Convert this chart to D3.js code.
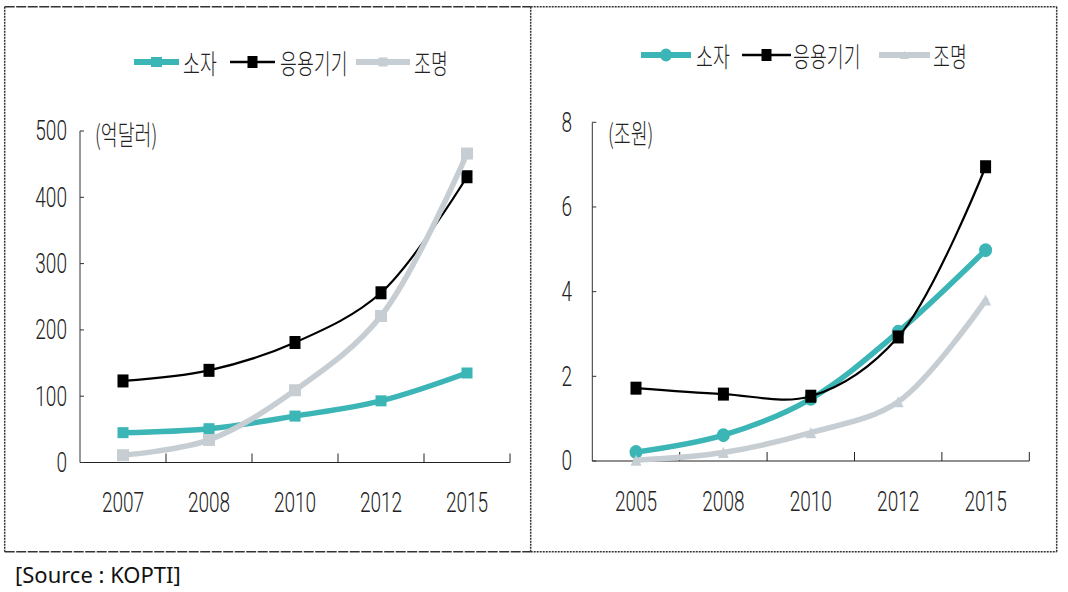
<!DOCTYPE html>
<html><head><meta charset="utf-8">
<script src="https://cdn.jsdelivr.net/npm/d3@7"></script>
<style>html,body{margin:0;padding:0;background:#fff;}svg{display:block;}</style>
</head><body>
<svg id="c" width="1068" height="592"></svg>
<script>
// ---- data ----
const seriesNames = ["소자", "응용기기", "조명"];
const leftYears = ["2007", "2008", "2010", "2012", "2015"];
const leftSoja = [45, 51, 70, 93, 135];
const leftEungyong = [123, 139, 181, 256, 431];
const leftJomyeong = [11, 34, 109, 221, 466];
const leftTicks = [0, 100, 200, 300, 400, 500];
const leftUnit = "(억달러)";
const rightYears = ["2005", "2008", "2010", "2012", "2015"];
const rightSoja = [0.21, 0.61, 1.47, 3.05, 4.98];
const rightEungyong = [1.72, 1.58, 1.53, 2.93, 6.95];
const rightJomyeong = [0.02, 0.2, 0.67, 1.4, 3.8];
const rightTicks = [0, 2, 4, 6, 8];
const rightUnit = "(조원)";
const sourceText = "[Source : KOPTI]";

const TEAL = "#3bb5b5", BLACK = "#000", GRAY = "#c6ced3", TXT = "#222";
const NUMFONT = "Roboto, 'Liberation Sans', Arial, sans-serif";
const KRFONT = "'Noto Sans CJK KR', sans-serif";
const SX = 0.68;

const svg = d3.select("#c");

function txt(g, x, y, s, anchor, size, font, weight) {
  g.append("text")
    .attr("transform", `translate(${x},${y}) scale(${SX},1)`)
    .attr("text-anchor", anchor)
    .attr("dominant-baseline", "central")
    .attr("font-family", font)
    .attr("font-size", size)
    .attr("font-weight", weight)
    .attr("fill", TXT)
    .text(s);
}

function marker(g, type, x, y, color, w, h) {
  if (type === "square") {
    g.append("rect").attr("x", x - w / 2).attr("y", y - h / 2).attr("width", w).attr("height", h).attr("fill", color);
  } else if (type === "circle") {
    g.append("ellipse").attr("cx", x).attr("cy", y).attr("rx", w / 2).attr("ry", h / 2).attr("fill", color);
  } else if (type === "triangle") {
    g.append("path").attr("d", `M${x},${y - h / 2}L${x + w / 2},${y + h / 2}L${x - w / 2},${y + h / 2}Z`).attr("fill", color);
  }
}

function panel(cfg) {
  const g = svg.append("g");
  const x = d3.scaleBand().domain(cfg.years).range([cfg.x0, cfg.x1]).padding(0);
  const y = d3.scaleLinear().domain([0, cfg.ticks[cfg.ticks.length - 1]]).range([cfg.y0, cfg.y1]);
  const bw = x.bandwidth();
  // axes
  g.append("line").attr("x1", cfg.x0).attr("x2", cfg.x0).attr("y1", y(0)).attr("y2", y.range()[1]).attr("stroke", "#333").attr("stroke-width", 1);
  g.append("line").attr("x1", cfg.x0).attr("x2", cfg.x1).attr("y1", y(0)).attr("y2", y(0)).attr("stroke", "#222").attr("stroke-width", 1.2);
  cfg.ticks.forEach(t => {
    g.append("line").attr("x1", cfg.x0).attr("x2", cfg.x0 + 4).attr("y1", y(t)).attr("y2", y(t)).attr("stroke", "#333");
    txt(g, cfg.labelX, y(t), String(t), "end", 28, NUMFONT, 300);
  });
  cfg.years.forEach((yr, i) => {
    const bx = x(yr) + bw;
    g.append("line").attr("x1", bx).attr("x2", bx).attr("y1", y(0)).attr("y2", y(0) - 9).attr("stroke", "#222");
    txt(g, x(yr) + bw / 2, cfg.yearY, yr, "middle", 28, NUMFONT, 300);
  });
  txt(g, cfg.unitX, cfg.unitY, cfg.unit, "start", 27, KRFONT, 300);
  // series
  const line = d3.line().x((d, i) => x(cfg.years[i]) + bw / 2).y(d => y(d)).curve(d3.curveCatmullRom.alpha(0.5));
  cfg.series.forEach(s => {
    g.append("path").attr("d", line(s.values)).attr("fill", "none").attr("stroke", s.color)
      .attr("stroke-width", s.width).attr("stroke-linejoin", "round").attr("stroke-linecap", "round");
    s.values.forEach((v, i) => marker(g, s.marker, x(cfg.years[i]) + bw / 2, y(v), s.color, s.mw, s.mh));
  });
  // legend
  cfg.legend.forEach((l, i) => {
    const s = cfg.series[i];
    g.append("line").attr("x1", l.x1).attr("x2", l.x2).attr("y1", cfg.legendY).attr("y2", cfg.legendY)
      .attr("stroke", s.color).attr("stroke-width", s.width + 0.5);
    marker(g, s.marker, (l.x1 + l.x2) / 2, cfg.legendY, s.color, s.lw, s.lh);
    txt(g, l.tx, cfg.legendY, seriesNames[i], "start", 27, KRFONT, 300);
  });
}

panel({
  years: leftYears, ticks: leftTicks, unit: leftUnit,
  x0: 80, x1: 510, y0: 462.5, y1: 131, labelX: 67, yearY: 503, unitX: 95, unitY: 133,
  legendY: 62,
  series: [
    { values: leftSoja, color: TEAL, width: 5.5, marker: "square", mw: 11, mh: 11, lw: 11, lh: 10 },
    { values: leftEungyong, color: BLACK, width: 2.2, marker: "square", mw: 11, mh: 13, lw: 10, lh: 12 },
    { values: leftJomyeong, color: GRAY, width: 5.5, marker: "square", mw: 12, mh: 12, lw: 9, lh: 9 }
  ],
  legend: [
    { x1: 134, x2: 179, tx: 183 },
    { x1: 230, x2: 275, tx: 280 },
    { x1: 356, x2: 410, tx: 414 }
  ]
});

panel({
  years: rightYears, ticks: rightTicks, unit: rightUnit,
  x0: 592.3, x1: 1029.3, y0: 461, y1: 122.3, labelX: 572, yearY: 502, unitX: 608, unitY: 132,
  legendY: 55,
  series: [
    { values: rightSoja, color: TEAL, width: 5.5, marker: "circle", mw: 13, mh: 14, lw: 12, lh: 13 },
    { values: rightEungyong, color: BLACK, width: 2.2, marker: "square", mw: 11, mh: 13, lw: 10, lh: 12 },
    { values: rightJomyeong, color: GRAY, width: 5.5, marker: "triangle", mw: 11, mh: 11, lw: 9, lh: 8 }
  ],
  legend: [
    { x1: 641, x2: 691, tx: 696 },
    { x1: 742, x2: 791, tx: 793 },
    { x1: 879, x2: 930, tx: 933 }
  ]
});

// borders
const B = svg.append("g").attr("fill", "none").attr("stroke", "#333").attr("stroke-width", 1.5);
function seg(x1, y1, x2, y2, dash) {
  B.append("line").attr("x1", x1).attr("y1", y1).attr("x2", x2).attr("y2", y2).attr("stroke-dasharray", dash);
}
seg(4.7, 6.7, 530.7, 6.7, "10,1.5");
seg(4.7, 551.7, 530.7, 551.7, "10,1.5");
seg(4.7, 6.7, 4.7, 551.7, "2,1");
seg(530.7, 6.7, 530.7, 551.7, "2,1");
seg(530.7, 6.7, 1056.7, 6.7, "2,1");
seg(530.7, 551.7, 1056.7, 551.7, "2,1");
seg(1056.7, 6.7, 1056.7, 551.7, "2,1");

svg.append("text").attr("x", 15).attr("y", 574).attr("dominant-baseline", "central")
  .attr("font-family", "'Noto Sans', sans-serif").attr("font-size", 22).attr("fill", "#111").text(sourceText);
</script>
</body></html>
